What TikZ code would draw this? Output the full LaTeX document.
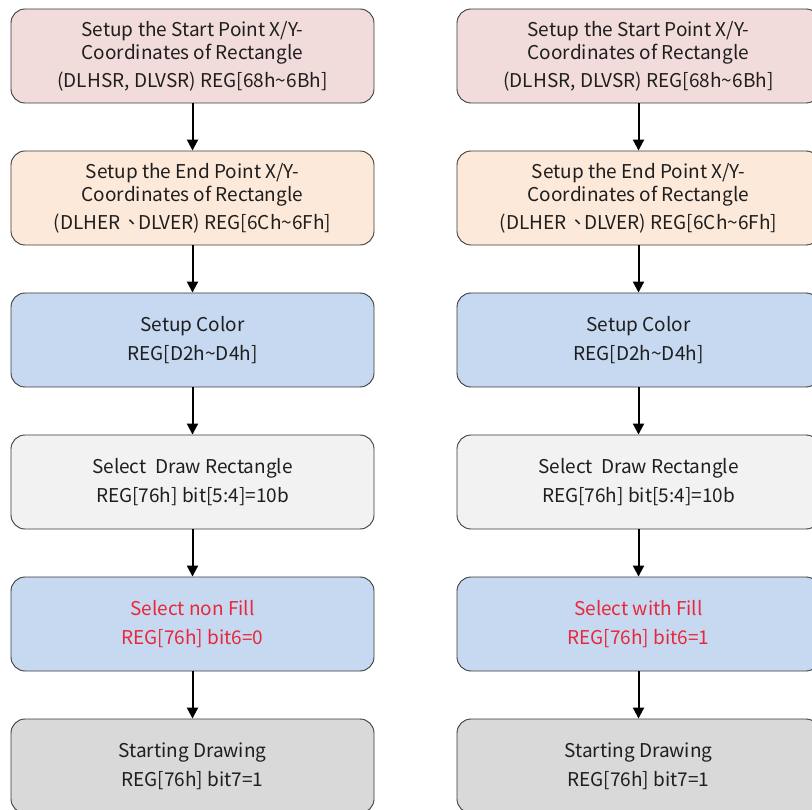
\documentclass[tikz,border=0pt]{standalone}
\usepackage{fontspec}
\setmainfont{Noto Sans CJK TC}
\usetikzlibrary{arrows.meta}
\definecolor{cpink}{HTML}{F2DCDB}
\definecolor{cpeach}{HTML}{FDE9D9}
\definecolor{cblue}{HTML}{C6D9F1}
\definecolor{clgray}{HTML}{F2F2F2}
\definecolor{cgray}{HTML}{D9D9D9}
\definecolor{cred}{HTML}{E8283A}
\definecolor{ctext}{HTML}{1E1E1E}
\definecolor{cedge}{HTML}{3A3A3A}
\begin{document}
\begin{tikzpicture}[x=1pt,y=-1pt,
  flowbox/.style={draw=cedge, line width=0.9pt, rounded corners=14pt, minimum width=363pt, minimum height=94pt, inner sep=0pt, align=center, text=ctext, font=\fontsize{19}{23}\selectfont},
  redtxt/.style={text=cred},
  flowarrow/.style={-{Triangle[length=11pt,width=11pt]}, line width=2pt, black}]
\useasboundingbox (0,0) rectangle (812,810);
\foreach \c/\p in {L/192.5, R/638.5}{
  \node[flowbox, fill=cpink] (\c1) at (\p,56) {Setup the Start Point X/Y-\\Coordinates of Rectangle\\[5pt](DLHSR, DLVSR) REG[68h\textasciitilde 6Bh]};
  \node[flowbox, fill=cpeach] (\c2) at (\p,198) {Setup the End Point X/Y-\\Coordinates of Rectangle\\[5pt](DLHER {\kern-2pt}、{\kern-4pt}DLVER) REG[6Ch\textasciitilde 6Fh]};
  \node[flowbox, fill=cblue] (\c3) at (\p,340) {Setup Color\\[6pt]REG[D2h\textasciitilde D4h]};
  \node[flowbox, fill=clgray] (\c4) at (\p,482) {Select\ \ Draw Rectangle\\[6pt]REG[76h] bit[5:4]=10b};
  \node[flowbox, fill=cgray] (\c6) at (\p,766) {Starting Drawing\\[6pt]REG[76h] bit7=1};
}
\node[flowbox, fill=cblue, redtxt] (L5) at (192.5,624) {Select non Fill\\[6pt]REG[76h] bit6=0};
\node[flowbox, fill=cblue, redtxt] (R5) at (638.5,624) {Select with Fill\\[6pt]REG[76h] bit6=1};
\foreach \c in {L,R}{
  \draw[flowarrow] (\c1) -- (\c2);
  \draw[flowarrow] (\c2) -- (\c3);
  \draw[flowarrow] (\c3) -- (\c4);
  \draw[flowarrow] (\c4) -- (\c5);
  \draw[flowarrow] (\c5) -- (\c6);
}
\end{tikzpicture}
\end{document}
